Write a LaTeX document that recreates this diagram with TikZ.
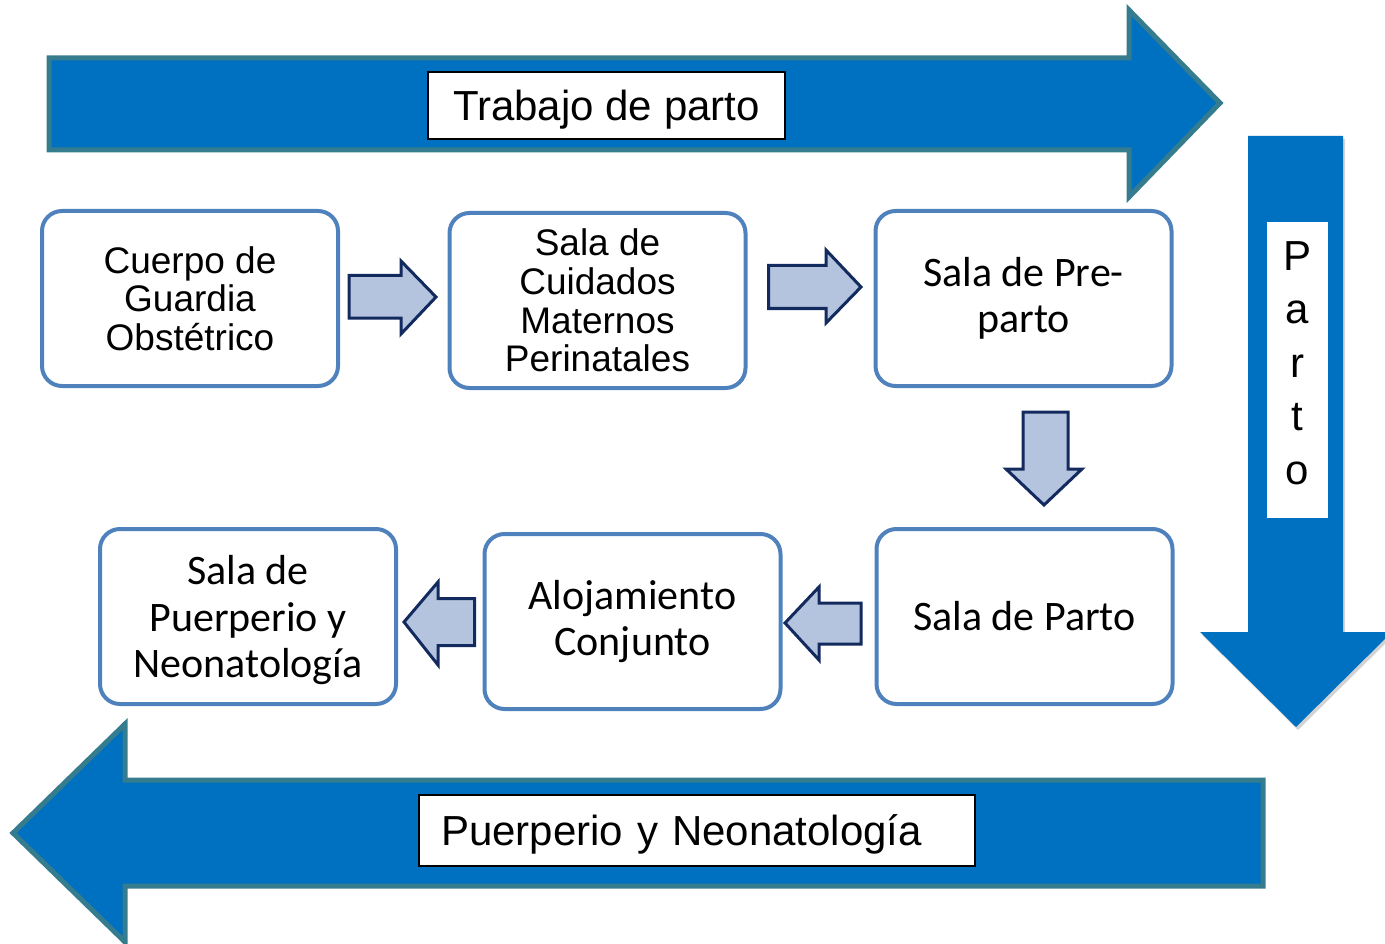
\documentclass[tikz,border=0pt]{standalone}
\usepackage{fontspec}
\setmainfont{Liberation Sans}
\newfontfamily\calib{Carlito}
\usetikzlibrary{shadows}
\definecolor{bigblue}{HTML}{0070C0}
\definecolor{tealedge}{HTML}{357D8E}
\definecolor{boxedge}{HTML}{4F81BD}
\definecolor{smallfill}{HTML}{B4C4DE}
\definecolor{smalledge}{HTML}{132A5E}
\tikzset{
  bigarrow/.style={fill=bigblue, draw=tealedge, line width=5pt, line join=miter},
  smallarrow/.style={fill=smallfill, draw=smalledge, line width=3pt, line join=miter},
  stagebox/.style={draw=boxedge, fill=white, line width=4pt, rounded corners=20pt,
    minimum width=296pt, minimum height=175pt, align=center, inner sep=0pt},
  arialtext/.style={font=\fontsize{37}{38.7}\selectfont},
  calibtext/.style={font=\calib\fontsize{42}{46.5}\selectfont},
  labelbox/.style={draw=black, fill=white, line width=1.5pt, inner sep=0pt,
    text depth=0pt, font=\fontsize{42}{46}\selectfont}
}
\begin{document}
\begin{tikzpicture}[x=1pt,y=-1pt]
\useasboundingbox (0,0) rectangle (1385,944);
% big arrows
\draw[bigarrow] (49,58) -- (1129,58) -- (1129,10) -- (1220,103) -- (1129,197) -- (1129,150) -- (49,150) -- cycle;
\fill[bigblue, drop shadow={opacity=0.35, shadow xshift=2pt, shadow yshift=-3pt}]
  (1248,136) -- (1343,136) -- (1343,632) -- (1392,632) -- (1296,727) -- (1200,632) -- (1248,632) -- cycle;
\draw[bigarrow] (1263,780) -- (125,780) -- (125,724) -- (13,833) -- (125,942) -- (125,886) -- (1263,886) -- cycle;
% labels on big arrows
\node[labelbox, minimum width=357pt, minimum height=67pt] (trabajo) at (606.5,105.5) {Trabajo de parto};
\node[labelbox, minimum width=556pt, minimum height=71pt, text width=512pt, inner xsep=22pt, align=left] (puerperio) at (697,830.5) {Puerperio y Neonatología};
\node[fill=white, minimum width=61pt, minimum height=296pt, inner sep=0pt] (partobox) at (1297.5,370) {};
\node[inner sep=0pt, align=center, font=\fontsize{42}{53.5}\selectfont] (parto) at (1297.5,363) {P\\a\\r\\t\\o};
% stage boxes
\node[stagebox, arialtext] (cuerpo) at (190,298.5) {Cuerpo de\\Guardia\\Obstétrico};
\node[stagebox, arialtext] (cuidados) at (597.5,300.5) {Sala de\\Cuidados\\Maternos\\Perinatales};
\node[stagebox, calibtext] (preparto) at (1023.5,298.5) {Sala de Pre-\\parto};
\node[stagebox, calibtext] (salaparto) at (1024.5,616.5) {Sala de Parto};
\node[stagebox, calibtext] (aloj) at (632.5,621.5) {Alojamiento\\Conjunto};
\node[stagebox, calibtext, text depth=0pt] (neo) at (248,616.5) {Sala de\\Puerperio y\\Neonatología};
% small block arrows
\draw[smallarrow] (349,275.5) -- (401,275.5) -- (401,261) -- (436,297) -- (401,334) -- (401,318) -- (349,318) -- cycle;
\draw[smallarrow] (768.5,265.5) -- (826,265.5) -- (826,250) -- (861,287) -- (826,323) -- (826,308.5) -- (768.5,308.5) -- cycle;
\draw[smallarrow] (1023,412) -- (1068,412) -- (1068,469) -- (1082,469) -- (1044,505) -- (1006,469) -- (1023,469) -- cycle;
\draw[smallarrow] (785,623) -- (819,587) -- (819,603) -- (861,603) -- (861,644) -- (819,644) -- (819,660) -- cycle;
\draw[smallarrow] (404,622) -- (438,582) -- (438,598.5) -- (474.5,598.5) -- (474.5,645.5) -- (438,645.5) -- (438,665) -- cycle;
\end{tikzpicture}
\end{document}
